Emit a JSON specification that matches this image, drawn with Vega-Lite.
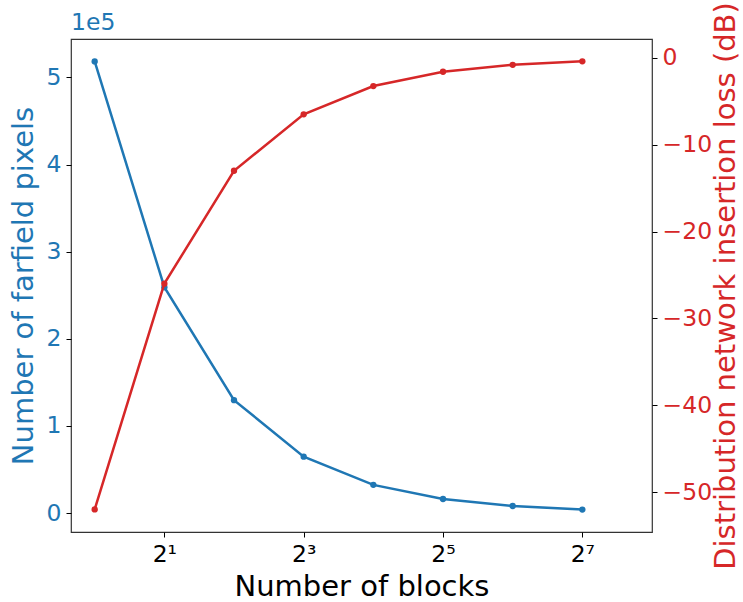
{
  "$schema": "https://vega.github.io/schema/vega-lite/v6.json",
  "width": 581,
  "height": 493,
  "autosize": {"type": "none"},
  "padding": {"left": 71, "top": 39, "right": 91, "bottom": 70},
  "background": "white",
  "config": {
    "font": "DejaVu Sans",
    "view": {"stroke": "#333333", "strokeWidth": 1.2},
    "axis": {"grid": false, "domain": false, "tickColor": "black", "tickSize": 5, "labelFont": "DejaVu Sans", "titleFont": "DejaVu Sans", "labelFontSize": 23.5, "titleFontSize": 29, "titleFontWeight": "normal"}
  },
  "title": {"text": "1e5", "anchor": "start", "frame": "group", "color": "#1f77b4", "fontSize": 23.5, "fontWeight": "normal", "font": "DejaVu Sans", "offset": -33},
  "data": {"values": [
    {"blocks": 1, "pixels": 518400, "loss": -52},
    {"blocks": 2, "pixels": 259200, "loss": -26},
    {"blocks": 4, "pixels": 129600, "loss": -13},
    {"blocks": 8, "pixels": 64800, "loss": -6.5},
    {"blocks": 16, "pixels": 32400, "loss": -3.25},
    {"blocks": 32, "pixels": 16200, "loss": -1.6},
    {"blocks": 64, "pixels": 8100, "loss": -0.8},
    {"blocks": 128, "pixels": 4050, "loss": -0.4}
  ]},
  "encoding": {
    "x": {"field": "blocks", "type": "quantitative",
      "scale": {"type": "log", "base": 2, "domain": [0.79, 256], "nice": false},
      "axis": {"title": "Number of blocks", "values": [2, 8, 32, 128], "labelColor": "black", "titleColor": "black", "labelPadding": 5, "titlePadding": 7,
        "labelExpr": "datum.value == 2 ? '2¹' : datum.value == 8 ? '2³' : datum.value == 32 ? '2⁵' : '2⁷'"}}
  },
  "layer": [
    {
      "mark": {"type": "line", "color": "#1f77b4", "strokeWidth": 2.5, "point": {"filled": true, "size": 40, "color": "#1f77b4"}},
      "encoding": {
        "y": {"field": "pixels", "type": "quantitative",
          "scale": {"domain": [-21700, 544100], "nice": false, "zero": false},
          "axis": {"orient": "left", "title": "Number of farfield pixels", "titleColor": "#1f77b4", "labelColor": "#1f77b4", "values": [0, 100000, 200000, 300000, 400000, 500000],
            "labelExpr": "format(datum.value / 100000, 'd')", "labelPadding": 5, "titlePadding": 8}}
      }
    },
    {
      "mark": {"type": "line", "color": "#d62728", "strokeWidth": 2.5, "point": {"filled": true, "size": 40, "color": "#d62728"}},
      "encoding": {
        "y": {"field": "loss", "type": "quantitative",
          "scale": {"domain": [-54.6, 2.17], "nice": false, "zero": false},
          "axis": {"orient": "right", "title": "Distribution network insertion loss (dB)", "titleAngle": 270, "titleBaseline": "top", "titleColor": "#d62728", "labelColor": "#d62728", "values": [-50, -40, -30, -20, -10, 0],
            "labelExpr": "replace(format(datum.value, 'd'), '-', '−')", "labelPadding": 5, "titlePadding": 0}}
      }
    }
  ],
  "resolve": {"scale": {"y": "independent"}}
}
